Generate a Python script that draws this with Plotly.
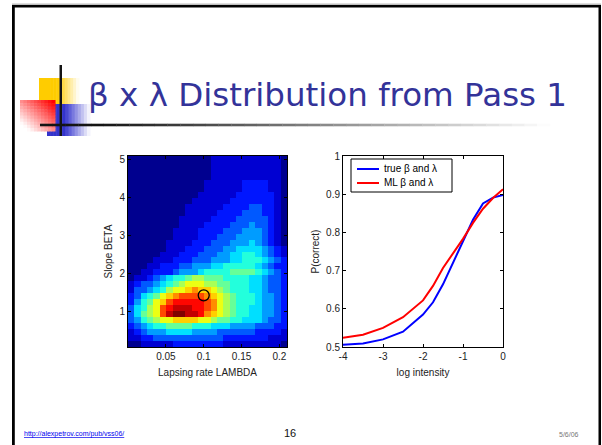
import plotly.graph_objects as go

W, H = 602, 445

# ---------------- data ----------------
# Posterior density of (lambda, beta), read off the picture as jet levels 0..15 (hex digits).
# First string = top row (highest beta), columns = lambda from left to right.
HEAT_ROWS = [
    "0000000000000111111111110",
    "0000000000000111111111110",
    "0000000000000111111111110",
    "0000000000000111111111110",
    "0000000000001111112222110",
    "0000000000001111112222110",
    "0000000000011111122222210",
    "0000000000111111222222210",
    "0000000001111112222332210",
    "0000000001111122223332210",
    "0000000011111222233333210",
    "0000000011112222333433210",
    "0000000111122223334443210",
    "0000000111122233344443210",
    "0000001111222333444543210",
    "0000001112223334455554321",
    "0000011122233344556654321",
    "0000111222333444556665432",
    "0001122233444556666654322",
    "0011222344456666777765432",
    "0112345667887776666554332",
    "1233456789998877666554332",
    "133456899abaa987666554332",
    "235679abccccba98766654432",
    "24679acdddddcb98766654432",
    "35689cdeeeddcb98766554432",
    "35789ceffeedba98766554432",
    "3467899aaaa99877665554332",
    "2345667777666555444433322",
    "1234445555444433333322221",
    "1122333333333332222222111",
    "0011111222222221111111110",
]
LAMBDA_RANGE = [0.0, 0.21]
BETA_RANGE = [0.07, 5.1]
ml_lambda = [0.1]
ml_beta = [1.43]

log_intensity = [-4, -3.5, -3, -2.5, -2, -1.75, -1.5, -1.25, -1, -0.75, -0.5, -0.25, 0]
p_true = [0.506, 0.509, 0.520, 0.540, 0.585, 0.617, 0.664, 0.720, 0.777, 0.833, 0.876, 0.891, 0.898]
p_ml = [0.524, 0.532, 0.550, 0.578, 0.622, 0.660, 0.707, 0.745, 0.783, 0.825, 0.862, 0.890, 0.913]
series_names = ["true β and λ", "ML β and λ"]
series_colors = ["#0000ff", "#ff0000"]

heat_xticks = [0.05, 0.1, 0.15, 0.2]
heat_xticktext = ["0.05", "0.1", "0.15", "0.2"]
heat_yticks = [1, 2, 3, 4, 5]
line_xticks = [-4, -3, -2, -1, 0]
line_xticktext = ["-4", "-3", "-2", "-1", "0"]
line_yticks = [0.5, 0.6, 0.7, 0.8, 0.9, 1.0]
line_yticktext = ["0.5", "0.6", "0.7", "0.8", "0.9", "1"]

TITLE = "β x λ Distribution from Pass 1"
FOOT_URL = "http://alexpetrov.com/pub/vss06/"
FOOT_PAGE = "16"
FOOT_DATE = "5/6/06"

# ---------------- helpers ----------------
def px(x):
    return x / W

def py(y):
    return 1 - y / H

JET = [[0.0, "rgb(0,0,143)"], [0.111, "rgb(0,0,255)"], [0.365, "rgb(0,255,255)"],
       [0.619, "rgb(255,255,0)"], [0.873, "rgb(255,0,0)"], [1.0, "rgb(128,0,0)"]]
FONT = "Liberation Sans, Arial, sans-serif"

nrows = len(HEAT_ROWS)
ncols = len(HEAT_ROWS[0])
z = [[int(ch, 16) for ch in row] for row in reversed(HEAT_ROWS)]
dx = (LAMBDA_RANGE[1] - LAMBDA_RANGE[0]) / ncols
dy = (BETA_RANGE[1] - BETA_RANGE[0]) / nrows

fig = go.Figure()
fig.add_trace(go.Heatmap(
    z=z, x0=LAMBDA_RANGE[0] + dx / 2, dx=dx, y0=BETA_RANGE[0] + dy / 2, dy=dy,
    zmin=0, zmax=15, colorscale=JET, showscale=False, zsmooth=False,
    xaxis="x", yaxis="y", hoverinfo="skip"))
fig.add_trace(go.Scatter(
    x=ml_lambda, y=ml_beta, mode="markers", showlegend=False,
    marker=dict(symbol="circle-open", size=11, color="black", line=dict(width=1.3)),
    xaxis="x", yaxis="y"))

for name, yv, col in zip(series_names, [p_true, p_ml], series_colors):
    fig.add_trace(go.Scatter(x=log_intensity, y=yv, mode="lines", name=name, showlegend=False,
                             line=dict(color=col, width=2), xaxis="x2", yaxis="y2"))

axis_font = dict(family=FONT, size=10, color="#222")
common = dict(showline=True, linecolor="black", linewidth=1, mirror="ticks", ticks="inside",
              ticklen=3, tickcolor="black", showgrid=False, zeroline=False, tickfont=axis_font)

plot_top, plot_bot = 156, 347
fig.update_layout(
    width=W, height=H, margin=dict(l=0, r=0, t=0, b=0, autoexpand=False),
    paper_bgcolor="white", plot_bgcolor="white", showlegend=False,
    xaxis=dict(domain=[px(128), px(287)], range=LAMBDA_RANGE, tickvals=heat_xticks,
               ticktext=heat_xticktext, anchor="y",
               title=dict(text="Lapsing rate LAMBDA", font=axis_font, standoff=7), **common),
    yaxis=dict(domain=[py(plot_bot), py(plot_top)], range=BETA_RANGE, tickvals=heat_yticks,
               anchor="x", title=dict(text="Slope BETA", font=axis_font, standoff=4), **common),
    xaxis2=dict(domain=[px(343), px(503)], range=[-4, 0], tickvals=line_xticks,
                ticktext=line_xticktext, anchor="y2",
                title=dict(text="log intensity", font=axis_font, standoff=7), **common),
    yaxis2=dict(domain=[py(plot_bot), py(plot_top)], range=[0.5, 1.0], tickvals=line_yticks,
                ticktext=line_yticktext, anchor="x2",
                title=dict(text="P(correct)", font=axis_font, standoff=4), **common),
)

shapes = []

def rect(x0, y0, x1, y1, color, layer="above", border=None):
    shapes.append(dict(type="rect", xref="paper", yref="paper", x0=px(x0), x1=px(x1),
                       y0=py(y1), y1=py(y0), fillcolor=color,
                       line=dict(width=0) if border is None else dict(color=border, width=1),
                       layer=layer))

def mix(c, t):
    return "rgb(%d,%d,%d)" % tuple(round(ci + (255 - ci) * t) for ci in c)

# yellow square: solid left part, fades to white on the right
YEL = (255, 204, 0)
n = 14
x0, x1, y0, y1 = 39, 79, 78, 108
for i in range(n):
    xa = x0 + (x1 - x0) * i / n
    xb = x0 + (x1 - x0) * (i + 1) / n
    t = max(0.0, (i + 0.5) / n - 0.45) / 0.55
    rect(xa, y0, xb + 0.5, y1, mix(YEL, min(1, t)))

# blue square
BLU = (51, 51, 204)
x0, x1, y0, y1 = 47, 90, 104, 136
for i in range(n):
    xa = x0 + (x1 - x0) * i / n
    xb = x0 + (x1 - x0) * (i + 1) / n
    t = max(0.0, (i + 0.5) / n - 0.4) / 0.6
    rect(xa, y0, xb + 0.5, y1, mix(BLU, min(1, t)))

# red square: diagonal gradient from top-right red to bottom-left white
RED = (255, 0, 0)
m = 10
x0, x1, y0, y1 = 20, 55, 100, 131
for i in range(m):
    for j in range(m):
        xa = x0 + (x1 - x0) * i / m
        xb = x0 + (x1 - x0) * (i + 1) / m
        ya = y0 + (y1 - y0) * j / m
        yb = y0 + (y1 - y0) * (j + 1) / m
        d = ((m - 1 - i) + j) / (2 * (m - 1))
        rect(xa, ya, xb + 0.5, yb + 0.5, mix(RED, min(1, d * 1.1)))

# horizontal fading rule under the title
segs = 40
hx0, hx1, hy = 40, 550, 125
for i in range(segs):
    xa = hx0 + (hx1 - hx0) * i / segs
    xb = hx0 + (hx1 - hx0) * (i + 1) / segs
    t = max(0.0, (i + 0.5) / segs - 0.12) / 0.88
    g = round(20 + 235 * t)
    rect(xa, hy - 1.3, xb + 0.3, hy + 1.3, "rgb(%d,%d,%d)" % (g, g, g))

# vertical bar
rect(59.5, 65, 62, 136, "rgb(20,20,20)")

# slide frame
rect(12, 3.5, 601, 5, "rgb(190,190,190)")
rect(12, 5, 601, 7.5, "black")
rect(12, 5, 14.8, 445, "black")
rect(598.5, 5, 601, 445, "black")

# legend box of the right panel
rect(351, 159, 452, 192, "white", border="black")
for k, col in enumerate(series_colors):
    ly = 169 + 14 * k
    shapes.append(dict(type="line", xref="paper", yref="paper", x0=px(357), x1=px(379),
                       y0=py(ly), y1=py(ly), line=dict(color=col, width=2), layer="above"))

fig.update_layout(shapes=shapes)

ann = [
    dict(text=TITLE, x=px(86), y=py(95), xanchor="left", yanchor="middle",
         font=dict(family="DejaVu Sans, sans-serif", size=32.5, color="#333399")),
    dict(text="<u>" + FOOT_URL + "</u>", x=px(22), y=py(434), xanchor="left", yanchor="middle",
         font=dict(family=FONT, size=7, color="#0000ee")),
    dict(text=FOOT_PAGE, x=px(290), y=py(433), xanchor="center", yanchor="middle",
         font=dict(family=FONT, size=11, color="#111")),
    dict(text=FOOT_DATE, x=px(581), y=py(434), xanchor="right", yanchor="middle",
         font=dict(family=FONT, size=7, color="#777")),
]
for k, name in enumerate(series_names):
    ann.append(dict(text=name, x=px(382), y=py(169 + 14 * k), xanchor="left", yanchor="middle",
                    font=dict(family=FONT, size=10, color="black")))
for a in ann:
    a.update(xref="paper", yref="paper", showarrow=False)
fig.update_layout(annotations=ann)

fig.write_html("out.html", config={"displayModeBar": False},
               post_script="document.body.style.margin='0';document.body.style.overflow='hidden';")
